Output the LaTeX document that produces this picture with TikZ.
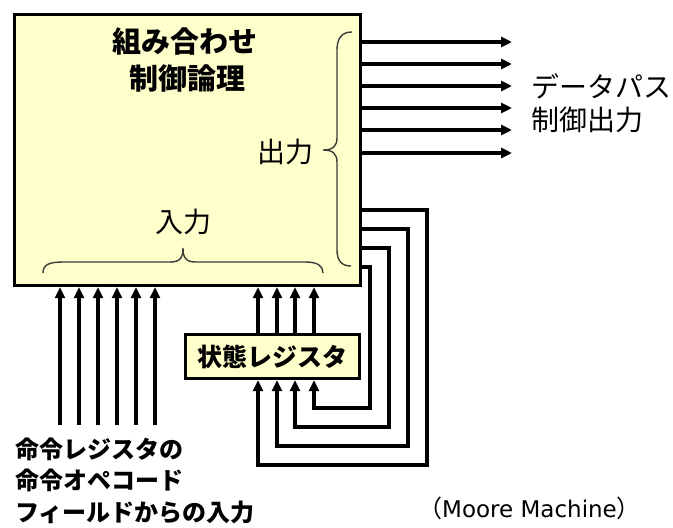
\documentclass[tikz,border=0pt]{standalone}
\usepackage{fontspec}
\setmainfont{Noto Sans CJK JP}
\newfontfamily\dejavu{DejaVu Sans}
\usetikzlibrary{arrows.meta}
\definecolor{boxfill}{RGB}{255,255,204}
\definecolor{bracecol}{RGB}{60,60,60}
\tikzset{
  wire/.style={line width=3.2pt},
  tip/.style={-{Triangle[length=11pt,width=10pt]}},
  arr/.style={wire,tip},
  bracestyle/.style={line width=1.4pt,draw=bracecol},
  lbl/.style={inner sep=0pt,font=\fontsize{28}{32}\selectfont},
  lft/.style={inner sep=0pt,anchor=west,font=\bfseries\fontsize{24}{28}\selectfont},
}
\begin{document}
\begin{tikzpicture}[x=1pt,y=-1pt]
\useasboundingbox (0,0) rectangle (673,528);
% main box
\node[draw,line width=3.2pt,fill=boxfill,minimum width=346pt,minimum height=271pt,inner sep=0pt,anchor=north west] (main) at (13,13) {};
% state register box
\node[draw,line width=3.2pt,fill=boxfill,minimum width=174pt,minimum height=44pt,inner sep=0pt,anchor=north west,font=\bfseries\fontsize{25}{28}\selectfont] (sr) at (184,333) {状態レジスタ};
% texts
\node[lbl,font=\bfseries\fontsize{29}{32}\selectfont] (t1) at (185,42) {組み合わせ};
\node[lbl,font=\bfseries\fontsize{29}{32}\selectfont] (t2) at (187,78) {制御論理};
\node[lbl] (out) at (285,152) {出力};
\node[lbl] (in) at (183,222) {入力};
\node[lbl,anchor=west] (dp1) at (531,86) {データパス};
\node[lbl,anchor=west] (dp2) at (531,120) {制御出力};
\node[lft] (l1) at (15,449) {命令レジスタの};
\node[lft] (l2) at (15,480) {命令オペコード};
\node[lft] (l3) at (15,512) {フィールドからの入力};
\node[inner sep=0pt,anchor=west,font=\fontsize{24}{28}\selectfont] (moore) at (418,508) {（{\dejavu\fontsize{23}{28}\selectfont Moore Machine}）};
% braces
\draw[bracestyle] (43,273) .. controls (43,264) and (50,262) .. (64,262) -- (170,262) .. controls (180,262) and (183,258) .. (183,248) .. controls (183,258) and (186,262) .. (196,262) -- (305,262) .. controls (318,262) and (323,266) .. (323,273);
\draw[bracestyle] (352,32) .. controls (342,32) and (337,38) .. (337,50) -- (337,138) .. controls (337,146) and (333,150) .. (323,150) .. controls (333,150) and (337,154) .. (337,162) -- (337,250) .. controls (337,261) and (342,266) .. (351,266);
% output arrows
\foreach \yy [count=\i] in {42,64,86,108,130,153}{
  \coordinate (o\i) at (512,\yy);
  \draw[arr] (main.east |- o\i) -- (o\i);
}
% input arrows
\foreach \xx [count=\i] in {60,79,98,117,136,155}{
  \coordinate (ia\i) at (\xx,425);
  \draw[arr] (ia\i) -- (ia\i |- main.south);
}
% state register to main
\foreach \xx [count=\i] in {258,277,295,314}{
  \coordinate (s\i) at (\xx,0);
  \draw[arr] (s\i |- sr.north) -- (s\i |- main.south);
}
% feedback loops
\foreach \yy/\xv/\yb/\xs in {210/427/465/258, 229/408/446/277, 248/389/427/295, 267/370/408/314}{
  \coordinate (fa) at (0,\yy);
  \coordinate (fc) at (\xv,\yb);
  \coordinate (fs) at (\xs,0);
  \draw[arr] (main.east |- fa) -| (fc) -| (fs |- sr.south);
}
\end{tikzpicture}
\end{document}
